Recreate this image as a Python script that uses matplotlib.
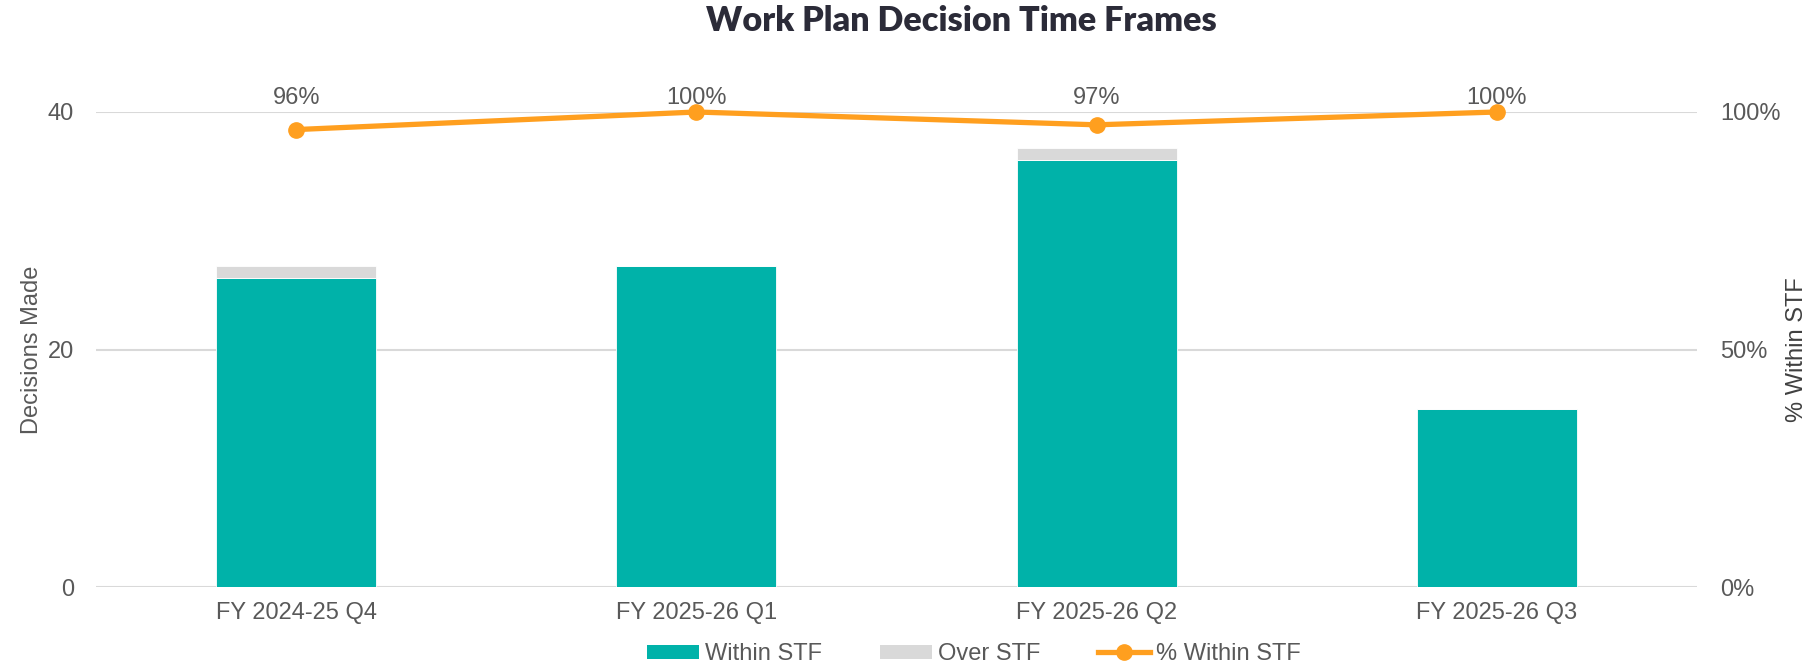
import matplotlib
matplotlib.use("Agg")
import matplotlib.pyplot as plt
from matplotlib.lines import Line2D
from matplotlib.patches import Patch

categories = ["FY 2024-25 Q4", "FY 2025-26 Q1", "FY 2025-26 Q2", "FY 2025-26 Q3"]
within_stf = [26, 27, 36, 15]
over_stf = [1, 0, 1, 0]
pct_within = [96.3, 100.0, 97.3, 100.0]
pct_labels = ["96%", "100%", "97%", "100%"]

TEAL = "#00B2A9"
GREY = "#D9D9D9"
ORANGE = "#FF9F1F"
TXT = "#595959"
FS = 17

plt.rcParams["font.family"] = ["Liberation Sans", "DejaVu Sans"]

fig = plt.figure(figsize=(18.13, 6.69), dpi=100)
ax = fig.add_axes([96/1813, 1-587/669, (1697-96)/1813, (587-112)/669])
ax2 = ax.twinx()

x = list(range(len(categories)))
ax.bar(x, within_stf, width=0.4, color=TEAL, edgecolor="white", linewidth=0.6, zorder=2)
ax.bar(x, over_stf, width=0.4, bottom=within_stf, color=GREY, edgecolor="white", linewidth=0.6, zorder=2)

ax.set_xlim(-0.5, 3.5)
ax.set_ylim(0, 40)
ax.set_yticks([0, 20, 40])
ax.yaxis.grid(True, color="#D9D9D9", linewidth=1.5, zorder=0)
ax.set_axisbelow(True)
for s in ax.spines.values():
    s.set_visible(False)
for s in ax2.spines.values():
    s.set_visible(False)
ax.set_xticks(x)
ax.set_xticklabels(categories)
ax.tick_params(axis="both", length=0, labelsize=FS, labelcolor=TXT)
ax.tick_params(axis="x", pad=11)
ax.tick_params(axis="y", pad=16)
ax.set_ylabel("Decisions Made", fontsize=FS, color=TXT)
ax.yaxis.set_label_coords((43 - 96)/1601, 0.5)

ax2.plot(x, pct_within, color=ORANGE, linewidth=3.8, marker="o", markersize=11,
         clip_on=False, zorder=5, solid_capstyle="round")
ax2.set_ylim(0, 100)
ax2.set_yticks([0, 50, 100])
ax2.set_yticklabels(["0%", "50%", "100%"])
ax2.tick_params(axis="y", length=0, labelsize=FS, labelcolor=TXT, pad=16.5)
ax2.set_ylabel("% Within STF", fontsize=FS, color="#404040")
ax2.yaxis.set_label_coords((1786 - 96)/1601, 0.5)

for xi, lab in zip(x, pct_labels):
    ax2.text(xi, 103.0, lab, ha="center", va="center", fontsize=FS, color=TXT, zorder=6)

title = fig.text(961/1813, 1-21/669, "Work Plan Decision Time Frames", ha="center", va="center",
                 fontsize=24, fontweight="heavy", color="#2B2B38", family=["Lato", "DejaVu Sans"])
fig.canvas.draw()
w = title.get_window_extent(fig.canvas.get_renderer()).width
title.set_fontsize(24 * 513 / w)

handles = [Patch(facecolor=TEAL, edgecolor="none"),
           Patch(facecolor=GREY, edgecolor="none"),
           Line2D([0], [0], color=ORANGE, linewidth=3.8, marker="o", markersize=11)]
fig.legend(handles, ["Within STF", "Over STF", "% Within STF"], loc="center",
           bbox_to_anchor=(974/1813, 1-654/669), ncol=3, frameon=False, fontsize=FS,
           labelcolor=TXT, handlelength=2.2, handleheight=0.55, columnspacing=2.45,
           handletextpad=0.25)

fig.savefig("out.png", dpi=100)
